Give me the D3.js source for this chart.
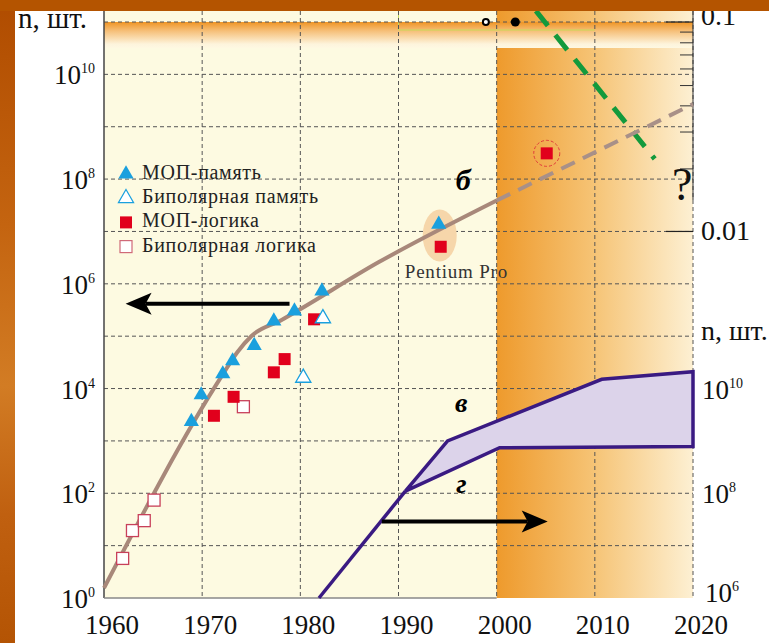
<!DOCTYPE html>
<html>
<head>
<meta charset="utf-8">
<script src="https://cdn.jsdelivr.net/npm/d3@7"></script>
<style>
html,body{margin:0;padding:0;background:#fff;}
svg{display:block;font-family:"Liberation Serif","Times New Roman",serif;}
</style>
</head>
<body>
<div id="chart"></div>
<script>
// ---- data ----
var yearTicks = [1960,1970,1980,1990,2000,2010,2020];
var leftExp = [0,2,4,6,8,10];
var rightLowExp = [6,8,10];
var rightTopMajor = [0.1,0.01];
var rightTopMinor = [0.09,0.08,0.07,0.06,0.05,0.04,0.03,0.02];

// МОП-память (filled triangles)
var mosMemYears = [1968.9,1969.9,1972.1,1973.1,1975.3,1977.3,1979.4,1982.2,1994.1];
var mosMemN     = [2340,7560,19000,33600,66000,195000,302000,727000,1.37e7];
// Биполярная память (open triangles)
var bipMemYears = [1980.3,1982.3];
var bipMemN     = [16000,219000];
// МОП-логика (filled squares)
var mosLogYears = [1971.2,1973.2,1977.3,1978.4,1981.4,1994.3,2005.1];
var mosLogN     = [3020,6950,20400,36500,210000,5.1e6,3.1e8];
// Биполярная логика (open squares)
var bipLogYears = [1961.9,1962.9,1964.1,1965.1,1974.2];
var bipLogN     = [5.7,19.4,30,74,4500];

// trend curve б
var trendYears = [1960,1972,1973.6,1975,1978,1988,2000];
var trendN     = [1.55,17400,50000,1e5,2e5,2.6e6,3.9e7];
var forecastYears = [2000,2020];
var forecastN     = [3.9e7,2.7e9];

// band в / г (right lower scale)
var entryYears = [1981.9,1990.7];
var entryN     = [1e6,1.1e8];
var bandHighYears = [1990.7,1995,2010.7,2020];
var bandHighN     = [1.1e8,1e9,1.5e10,2.1e10];
var bandLowYears  = [1990.7,2000.3,2020];
var bandLowN      = [1.1e8,7.4e8,7.8e8];

// green dashed (right upper scale, um)
var greenYears = [2004,2016.1];
var greenV     = [0.113,0.0222];
// dots at 0.1 um
var openDotYear = 1998.9, fullDotYear = 2001.9;

var legendNames = ["МОП-память","Биполярная память","МОП-логика","Биполярная логика"];
var legendKinds = ["triFill","triOpen","sqFill","sqOpen"];

// ---- layout ----
var W = 769, H = 643;
var plotTop = 11, plotBottom = 598, plotLeft = 104, plotRight = 693;
var blue = "#1aa0de", red = "#e1001c", purple = "#3a1a82", brown = "#a8887a";

var svg = d3.select("#chart").append("svg").attr("width", W).attr("height", H);

var x = d3.scaleLinear().domain([1960,2020]).range([plotLeft,plotRight]);
var y = d3.scaleLog().domain([1,1e11]).range([plotBottom,22]);
var yLow = d3.scaleLog().domain([1e6,1e17]).range([plotBottom,22]);
var yTop = d3.scaleLog().domain([0.01,0.1]).range([y(1e7),22]);

var defs = svg.append("defs");
function linGrad(id, x1, y1, x2, y2, stops){
  var g = defs.append("linearGradient").attr("id", id)
    .attr("x1", x1).attr("y1", y1).attr("x2", x2).attr("y2", y2);
  stops.forEach(function(s){ g.append("stop").attr("offset", s[0]).attr("stop-color", s[1]); });
}
linGrad("block","0","0","1","0",[["0","#ee9a2c"],["0.5","#f6c476"],["1","#fdf0d3"]]);
linGrad("strip","0","0","0","1",[["0","#ef9424"],["0.35","#f6c07a"],["0.85","#fdf4dc"],["1","#fef8e2"]]);
linGrad("outerL","0","0","0","1",[["0","#b04c00"],["0.35","#c46410"],["0.6","#d27c24"],["0.8","#c06010"],["1","#b45404"]]);

svg.append("rect").attr("width", W).attr("height", H).attr("fill", "#fff");

// plot background
svg.append("rect").attr("x", plotLeft).attr("y", plotTop)
  .attr("width", plotRight-plotLeft).attr("height", plotBottom-plotTop).attr("fill", "#fdfae1");
svg.append("rect").attr("x", x(2000)).attr("y", plotTop)
  .attr("width", plotRight-x(2000)).attr("height", plotBottom-plotTop).attr("fill", "url(#block)");
svg.append("rect").attr("x", plotLeft).attr("y", 22)
  .attr("width", plotRight-plotLeft).attr("height", 26).attr("fill", "url(#strip)");

// thin yellow-green frame line near the top
svg.append("path")
  .attr("d", d3.line()([[x(1990),plotTop],[x(1990),30],[x(2010),30]]))
  .attr("fill","none").attr("stroke","#c6dc5a").attr("stroke-width",1);

// grid
var grid = svg.append("g").attr("stroke","#555").attr("stroke-width",1).attr("stroke-dasharray","4,3");
grid.selectAll("line.h").data(d3.range(1,12)).enter().append("line")
  .attr("x1", plotLeft).attr("x2", plotRight)
  .attr("y1", function(d){ return y(Math.pow(10,d)); })
  .attr("y2", function(d){ return y(Math.pow(10,d)); });
grid.selectAll("line.v").data(yearTicks.slice(1)).enter().append("line")
  .attr("x1", function(d){ return x(d); }).attr("x2", function(d){ return x(d); })
  .attr("y1", plotTop).attr("y2", plotBottom);

// axes lines
svg.append("line").attr("x1", plotLeft).attr("x2", plotLeft).attr("y1", plotTop).attr("y2", plotBottom)
  .attr("stroke","#444").attr("stroke-width",1.5);
svg.append("line").attr("x1", plotLeft).attr("x2", x(2000)).attr("y1", plotBottom).attr("y2", plotBottom)
  .attr("stroke","#888").attr("stroke-width",1.5);

// right upper axis
var rAx = svg.append("g").attr("transform","translate("+plotRight+",0)")
  .call(d3.axisLeft(yTop).tickValues(rightTopMinor).tickSize(13).tickFormat(""));
rAx.select(".domain").remove();
rAx.selectAll("line").attr("stroke","#333");
svg.append("line").attr("x1", plotRight).attr("x2", plotRight).attr("y1", plotTop).attr("y2", 200)
  .attr("stroke","#333").attr("stroke-width",1);
svg.selectAll("line.major").data(rightTopMajor).enter().append("line")
  .attr("x1", plotRight-27).attr("x2", plotRight)
  .attr("y1", function(d){ return yTop(d); }).attr("y2", function(d){ return yTop(d); })
  .attr("stroke","#222").attr("stroke-width",1.2);
svg.selectAll("text.rtop").data(rightTopMajor).enter().append("text")
  .attr("x", 701).attr("y", function(d,i){ return yTop(d) + (i===0 ? 3 : 9); })
  .attr("font-size", 28).attr("fill","#111")
  .text(function(d){ return String(d); });

// tick labels with superscripts
function powLabel(sel){
  sel.append("tspan").text("10");
  sel.append("tspan").attr("dy",-11).attr("font-size",14).text(function(d){ return d; });
}
svg.selectAll("text.lt").data(leftExp).enter().append("text")
  .attr("x", 95).attr("y", function(d){ return y(Math.pow(10,d)) + 10; })
  .attr("text-anchor","end").attr("font-size",27).attr("fill","#111")
  .call(powLabel);
svg.selectAll("text.rl").data(rightLowExp).enter().append("text")
  .attr("x", function(d){ return d===6 ? 705 : 702; })
  .attr("y", function(d){ return yLow(Math.pow(10,d)) + (d===6 ? 4 : 10); })
  .attr("font-size",27).attr("fill","#111")
  .call(powLabel);
svg.selectAll("text.yr").data(yearTicks).enter().append("text")
  .attr("x", function(d){ return x(d) + 8; }).attr("y", 634)
  .attr("text-anchor","middle").attr("font-size",27).attr("fill","#111")
  .text(function(d){ return d; });

svg.append("text").attr("x",18).attr("y",28).attr("font-size",29).attr("fill","#111").text("n, шт.");
svg.append("text").attr("x",701).attr("y",340).attr("font-size",28).attr("fill","#111").text("n, шт.");

// green dashed line
svg.append("path")
  .attr("d", d3.line()(greenYears.map(function(d,i){ return [x(d), yTop(greenV[i])]; })))
  .attr("stroke","#139a3c").attr("stroke-width",5).attr("stroke-dasharray","19,12").attr("fill","none");

// dots at 0.1
svg.append("circle").attr("cx", x(openDotYear)).attr("cy", yTop(0.1)).attr("r",3)
  .attr("fill","#fff").attr("stroke","#000").attr("stroke-width",2);
svg.append("circle").attr("cx", x(fullDotYear)).attr("cy", yTop(0.1)).attr("r",4.5).attr("fill","#000");

// band в/г
var bandPts = bandHighYears.map(function(d,i){ return [x(d), yLow(bandHighN[i])]; })
  .concat(bandLowYears.map(function(d,i){ return [x(d), yLow(bandLowN[i])]; }).reverse());
svg.append("path").attr("d", d3.line()(bandPts) + "Z")
  .attr("fill","#dcd3ea").attr("stroke",purple).attr("stroke-width",3.5).attr("stroke-linejoin","miter");
svg.append("path")
  .attr("d", d3.line()(entryYears.map(function(d,i){ return [x(d), yLow(entryN[i])]; })))
  .attr("stroke",purple).attr("stroke-width",3.5).attr("fill","none");

// Pentium Pro highlight
svg.append("ellipse").attr("cx", x(1994.2)).attr("cy", (y(mosMemN[8]) + y(mosLogN[5]))/2)
  .attr("rx",17).attr("ry",26).attr("fill","#f6d6aa");

// trend б
var trendLine = d3.line().curve(d3.curveMonotoneX)
  .x(function(d){ return x(d[0]); }).y(function(d){ return y(d[1]); });
svg.append("path").attr("d", trendLine(d3.zip(trendYears, trendN)))
  .attr("stroke",brown).attr("stroke-width",4).attr("fill","none");
svg.append("path").attr("d", trendLine(d3.zip(forecastYears, forecastN)))
  .attr("stroke","#a89088").attr("stroke-width",4).attr("stroke-dasharray","15,9").attr("fill","none");

// future point ring
var lastI = mosLogYears.length-1;
svg.append("circle").attr("cx", x(mosLogYears[lastI])).attr("cy", y(mosLogN[lastI])).attr("r",13)
  .attr("fill","none").attr("stroke","#e03a3a").attr("stroke-width",1).attr("stroke-dasharray","3,2");

// markers
var tri = d3.symbol().type(d3.symbolTriangle).size(100);
function drawTri(ys, ns, filled){
  svg.append("g").selectAll("path").data(d3.zip(ys, ns)).enter().append("path")
    .attr("d", tri)
    .attr("transform", function(d){ return "translate("+x(d[0])+","+y(d[1])+")"; })
    .attr("fill", filled ? blue : "#fff").attr("stroke", blue).attr("stroke-width", filled ? 0 : 1.3);
}
function drawSq(ys, ns, filled){
  svg.append("g").selectAll("rect").data(d3.zip(ys, ns)).enter().append("rect")
    .attr("x", function(d){ return x(d[0]) - 6; }).attr("y", function(d){ return y(d[1]) - 6; })
    .attr("width",12).attr("height",12)
    .attr("fill", filled ? red : "#fff").attr("stroke", filled ? "none" : "#c8405a").attr("stroke-width",1.3);
}
drawSq(bipLogYears, bipLogN, false);
drawSq(mosLogYears, mosLogN, true);
drawTri(bipMemYears, bipMemN, false);
drawTri(mosMemYears, mosMemN, true);

// arrows
function arrow(x1, x2, yy){
  var dir = x2 > x1 ? 1 : -1;
  svg.append("line").attr("x1", x1).attr("x2", x2 - dir*20).attr("y1", yy).attr("y2", yy)
    .attr("stroke","#000").attr("stroke-width",4);
  svg.append("path").attr("d", d3.line()([[x2,yy],[x2-dir*26,yy-11],[x2-dir*20,yy],[x2-dir*26,yy+11]]) + "Z")
    .attr("fill","#000");
}
arrow(x(1978.9), x(1962.2), y(Math.pow(10,5.62)));
arrow(x(1988.3), x(2005.2), yLow(Math.pow(10,7.46)));

// annotations
svg.append("text").attr("x", x(1996.6)).attr("y", y(Math.pow(10,7.8))).attr("text-anchor","middle")
  .attr("font-size",30).attr("font-weight","bold").attr("font-style","italic").text("б");
svg.append("text").attr("x", x(1996.4)).attr("y", yLow(Math.pow(10,9.55))).attr("text-anchor","middle")
  .attr("font-size",28).attr("font-weight","bold").attr("font-style","italic").text("в");
svg.append("text").attr("x", x(1996.4)).attr("y", yLow(Math.pow(10,8.0))).attr("text-anchor","middle")
  .attr("font-size",28).attr("font-weight","bold").attr("font-style","italic").text("г");
svg.append("text").attr("x", x(2018.9)).attr("y", y(Math.pow(10,7.6))).attr("text-anchor","middle")
  .attr("font-size",46).attr("fill","#111").text("?");
svg.append("text").attr("x", x(1995.9)).attr("y", 278).attr("text-anchor","middle")
  .attr("font-size",19).attr("letter-spacing",0.8).attr("fill","#333").text("Pentium Pro");

// legend
var lg = svg.append("g").attr("transform","translate(126,173)");
var items = lg.selectAll("g").data(legendNames).enter().append("g")
  .attr("transform", function(d,i){ return "translate(0,"+(i*24.2)+")"; });
items.each(function(d,i){
  var g = d3.select(this), k = legendKinds[i];
  if (k.indexOf("tri") === 0) {
    g.append("path").attr("d", tri).attr("transform","translate(0,1)")
      .attr("fill", k === "triFill" ? blue : "#fff").attr("stroke", blue).attr("stroke-width", k === "triFill" ? 0 : 1.2);
  } else {
    g.append("rect").attr("x",-6).attr("y",-5).attr("width",12).attr("height",12)
      .attr("fill", k === "sqFill" ? red : "#fff").attr("stroke", k === "sqFill" ? "none" : "#d06a78").attr("stroke-width",1.2);
  }
  g.append("text").attr("x",16).attr("y",6).attr("font-size",20).attr("letter-spacing",0.7)
    .attr("fill","#222").text(d);
});

// outer orange frame
svg.append("rect").attr("x",0).attr("y",0).attr("width",15).attr("height",H).attr("fill","url(#outerL)");
svg.append("rect").attr("x",0).attr("y",0).attr("width",W).attr("height",plotTop).attr("fill","#b45400");
</script>
</body>
</html>
